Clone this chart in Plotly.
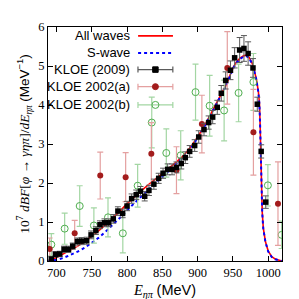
import plotly.graph_objects as go

# ---------------- data ----------------
curve_E = [688, 695, 700, 710, 720, 730, 740, 750, 760, 770, 780, 790, 800, 810, 820,
           830, 840, 850, 860, 870, 880, 890, 900, 910, 920, 930, 940, 945, 950, 955,
           960, 965, 969, 973, 977, 980, 983, 986, 987.5, 988.5, 989.2, 989.8, 990.5,
           991.5, 993, 996, 1000, 1005, 1010, 1015, 1019]
all_waves = [0.0, 0.04, 0.09, 0.18, 0.27, 0.38, 0.50, 0.63, 0.78, 0.94, 1.10, 1.28, 1.47,
             1.64, 1.80, 1.95, 2.09, 2.24, 2.39, 2.54, 2.70, 2.92, 3.18, 3.48, 3.82, 4.16,
             4.50, 4.72, 4.95, 5.10, 5.20, 5.26, 5.28, 5.22, 5.08, 4.90, 4.68, 4.35, 4.05,
             3.50, 3.00, 2.40, 1.80, 1.25, 0.85, 0.50, 0.25, 0.11, 0.05, 0.015, 0.0]
s_wave = [0.0, 0.01, 0.03, 0.08, 0.15, 0.24, 0.34, 0.46, 0.60, 0.76, 0.93, 1.11, 1.30,
          1.48, 1.66, 1.83, 1.99, 2.16, 2.33, 2.49, 2.66, 2.89, 3.15, 3.46, 3.80, 4.14,
          4.48, 4.70, 4.93, 5.08, 5.18, 5.24, 5.26, 5.20, 5.06, 4.88, 4.66, 4.33, 4.03,
          3.48, 2.98, 2.38, 1.78, 1.23, 0.83, 0.49, 0.24, 0.10, 0.045, 0.012, 0.0]

kloe09_E = [692.7, 698.5, 704.6, 710.7, 717.0, 723.0, 729.6, 735.7, 742.8, 749.0, 755.8,
            761.6, 768.0, 774.0, 780.5, 787.0, 793.7, 800.0, 806.5, 813.0, 819.0, 825.0,
            831.0, 838.0, 844.8, 851.0, 857.5, 863.7, 870.0, 876.8, 882.5, 888.7, 895.8,
            901.5, 909.0, 915.6, 921.3, 927.8, 933.5, 939.7, 946.5, 952.4, 959.5, 965.6,
            971.5, 978.4, 984.5, 990.0, 996.5]
kloe09_y = [0.05, 0.17, 0.18, 0.30, 0.30, 0.38, 0.50, 0.51, 0.52, 0.67, 0.78, 0.93, 0.98,
            0.98, 1.08, 1.28, 1.22, 1.41, 1.60, 1.70, 1.79, 1.66, 1.81, 1.97, 2.12, 2.25,
            2.35, 2.35, 2.40, 2.50, 2.65, 2.81, 2.96, 3.18, 3.37, 3.55, 3.69, 3.94, 4.30,
            4.63, 4.89, 5.21, 5.41, 5.45, 5.32, 4.95, 4.02, 2.81, 1.51]
kloe09_err = [0.06, 0.07, 0.07, 0.08, 0.08, 0.08, 0.09, 0.09, 0.09, 0.10, 0.10, 0.10, 0.10,
              0.10, 0.11, 0.11, 0.11, 0.12, 0.12, 0.12, 0.12, 0.12, 0.13, 0.13, 0.13, 0.13,
              0.14, 0.14, 0.14, 0.14, 0.15, 0.15, 0.15, 0.16, 0.16, 0.17, 0.17, 0.18, 0.20,
              0.22, 0.24, 0.26, 0.32, 0.33, 0.30, 0.24, 0.18, 0.17, 0.16]

kloe02a_E = [690.4, 725.8, 762.0, 798.0, 834.4, 870.0, 906.0, 942.0, 979.0, 1013.8]
kloe02a_y = [0.31, 0.71, 2.19, 2.15, 2.75, 2.33, 3.51, 4.95, 3.30, 1.47]
kloe02a_err = [0.28, 0.33, 0.60, 0.63, 0.80, 0.60, 0.74, 0.93, 1.10, 1.07]

kloe02b_E = [692.7, 711.6, 732.9, 753.0, 773.0, 794.0, 815.0, 835.0, 855.6, 876.0, 897.0,
             917.0, 937.5, 958.0, 979.0, 999.5, 1019.0]
kloe02b_y = [0.42, 0.83, 1.41, 0.91, 1.12, 0.71, 1.93, 3.55, 2.77, 2.71, 4.33, 3.98, 3.86,
             4.31, 4.59, 1.94, 0.67]
kloe02b_err = [0.28, 0.40, 0.52, 0.45, 0.50, 0.50, 0.55, 0.65, 0.62, 0.63, 0.72, 0.78, 0.78,
               0.74, 0.73, 0.53, 0.35]

x_ticks = [700, 750, 800, 850, 900, 950, 1000]
y_ticks = [0, 1, 2, 3, 4, 5, 6]

legend_labels = ["All waves", "S-wave", "KLOE (2009)", "KLOE 2002(a)", "KLOE 2002(b)"]

# ---------------- styles ----------------
RED = "#ff0000"
BLUE = "#0000ff"
BLACK = "#000000"
BLACK_BAR = "#5a5a5a"
DRED = "#a31c1c"
DRED_BAR = "#e4a0a0"
GREEN = "#4fae4f"
GREEN_BAR = "#a3d6a3"
SERIF = "Liberation Serif, DejaVu Serif, serif"
SANS = "Liberation Sans, Arial, sans-serif"

fig = go.Figure()

fig.add_trace(go.Scatter(x=curve_E, y=all_waves, mode="lines",
                         line=dict(color=RED, width=1.6), showlegend=False))
fig.add_trace(go.Scatter(x=curve_E, y=s_wave, mode="lines",
                         line=dict(color=BLUE, width=2, dash="dot"), showlegend=False))

fig.add_trace(go.Scatter(x=kloe02b_E, y=kloe02b_y, mode="markers",
                         marker=dict(symbol="circle-open", size=7, color=GREEN,
                                     line=dict(width=1, color=GREEN)),
                         error_y=dict(type="data", array=kloe02b_err, color=GREEN_BAR,
                                      thickness=1.2, width=3),
                         showlegend=False))
fig.add_trace(go.Scatter(x=kloe02a_E, y=kloe02a_y, mode="markers",
                         marker=dict(symbol="circle", size=6, color=DRED),
                         error_y=dict(type="data", array=kloe02a_err, color=DRED_BAR,
                                      thickness=1.2, width=3),
                         showlegend=False))
fig.add_trace(go.Scatter(x=kloe09_E, y=kloe09_y, mode="markers",
                         marker=dict(symbol="square", size=5.5, color=BLACK),
                         error_y=dict(type="data", array=kloe09_err, color=BLACK_BAR,
                                      thickness=1, width=3),
                         showlegend=False))

# ---------------- hand-built gnuplot-style legend (layout positions in paper units) ----
LEG_TEXT_X = 0.357
LEG_SAMPLE_X0, LEG_SAMPLE_X1 = 0.385, 0.534
LEG_SAMPLE_XC = 0.459
LEG_HALF = 0.0745
LEG_ROWS = [0.962, 0.889, 0.818, 0.745, 0.667]

fig.add_trace(go.Scatter(x=[LEG_SAMPLE_X0, LEG_SAMPLE_X1], y=[LEG_ROWS[0]] * 2,
                         xaxis="x2", yaxis="y2", mode="lines",
                         line=dict(color=RED, width=1.6), showlegend=False))
fig.add_trace(go.Scatter(x=[LEG_SAMPLE_X0, LEG_SAMPLE_X1], y=[LEG_ROWS[1]] * 2,
                         xaxis="x2", yaxis="y2", mode="lines",
                         line=dict(color=BLUE, width=2, dash="dot"), showlegend=False))
for row, mcol, bcol, sym, size in [(2, BLACK, BLACK_BAR, "square", 5.5),
                                   (3, DRED, DRED_BAR, "circle", 6),
                                   (4, GREEN, GREEN_BAR, "circle-open", 7)]:
    fig.add_trace(go.Scatter(x=[LEG_SAMPLE_XC], y=[LEG_ROWS[row]], xaxis="x2", yaxis="y2",
                             mode="markers",
                             marker=dict(symbol=sym, size=size, color=mcol,
                                         line=dict(width=1, color=mcol)),
                             error_x=dict(type="constant", value=LEG_HALF, color=bcol,
                                          thickness=1.2, width=3),
                             showlegend=False))
for lab, yy in zip(legend_labels, LEG_ROWS):
    fig.add_annotation(x=LEG_TEXT_X, y=yy, xref="paper", yref="paper", text=lab,
                       showarrow=False, xanchor="right", yanchor="middle",
                       font=dict(family=SANS, size=13, color="black"))

axis_common = dict(showline=True, linecolor="black", linewidth=1, mirror="allticks",
                   ticks="inside", ticklen=5, tickcolor="black", showgrid=False,
                   zeroline=False, tickfont=dict(family=SERIF, size=12.5, color="black"))

fig.update_layout(
    width=299, height=299,
    margin=dict(l=40, r=25, t=14, b=42),
    paper_bgcolor="white", plot_bgcolor="white",
    xaxis=dict(range=[688, 1019.5], tickvals=x_ticks, **axis_common,
               title=dict(text="<i>E</i><sub><i>ηπ</i></sub> <span style='font-family:Liberation Sans'>(MeV)</span>",
                          font=dict(family=SERIF, size=14.5, color="black"), standoff=5)),
    yaxis=dict(range=[0, 6], tickvals=y_ticks, **axis_common,
               title=dict(text="10<sup>7</sup> <i>dBF</i>[<i>φ</i> → <i>γηπ</i>]/<i>dE</i><sub><i>ηπ</i></sub> <span style='font-family:Liberation Sans'>(MeV<sup>−1</sup>)</span>",
                          font=dict(family=SERIF, size=13.5, color="black"), standoff=5)),
    xaxis2=dict(range=[0, 1], overlaying="x", visible=False, fixedrange=True),
    yaxis2=dict(range=[0, 1], overlaying="y", visible=False, fixedrange=True),
    showlegend=False,
)

fig.write_html("out.html")
